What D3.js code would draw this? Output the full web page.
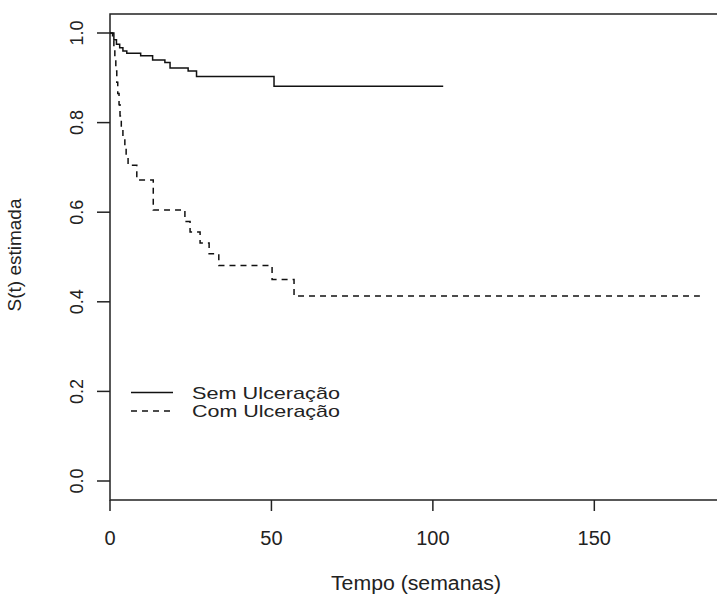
<!DOCTYPE html>
<html>
<head>
  <meta charset="UTF-8">
  <title>Kaplan-Meier</title>
  <script src="https://d3js.org/d3.v7.min.js"></script>
  <style>
    body { margin: 0; background: #fff; }
    text { font-family: "Liberation Sans", Arial, sans-serif; fill: #222; }
  </style>
</head>
<body>
  <svg id="chart" width="717" height="598"></svg>
  <script>
    // Sem Ulceração: step times (semanas) and estimated survival
    const semTempo = [0, 1.2, 2, 3, 4, 5.2, 9.5, 13.2, 17, 18.6, 24.2, 26.8, 50.8, 103.2];
    const semS     = [1, 0.985, 0.975, 0.967, 0.96, 0.955, 0.949, 0.94, 0.934, 0.922, 0.915, 0.903, 0.881, 0.881];

    // Com Ulceração
    const comTempo = [0, 0.8, 1.2, 1.5, 1.8, 2.1, 2.4, 2.8, 3.1, 3.5, 4.0, 4.6, 5.0, 5.6, 8.3, 13.4, 23.2, 24.8, 27.9, 30.7, 33.7, 50.2, 57.0, 182.7];
    const comS     = [1, 0.985, 0.96, 0.94, 0.915, 0.89, 0.865, 0.84, 0.815, 0.79, 0.765, 0.745, 0.725, 0.705, 0.672, 0.605, 0.579, 0.556, 0.531, 0.507, 0.481, 0.450, 0.413, 0.413];

    const xTicks = [0, 50, 100, 150];
    const yTicks = [0, 0.2, 0.4, 0.6, 0.8, 1.0];
    const legendLabels = ["Sem Ulceração", "Com Ulceração"];

    const svg = d3.select("#chart");
    const x = d3.scaleLinear().domain([0, 188]).range([110, 717]);
    const y = d3.scaleLinear().domain([0, 1]).range([481, 33]);

    // box: top, left, bottom (right side falls outside the window)
    svg.append("path")
       .attr("d", "M717,14 H110 V500 H717")
       .attr("fill", "none").attr("stroke", "#222").attr("stroke-width", 1.5);

    // x axis ticks
    svg.selectAll("line.xt").data(xTicks).join("line")
       .attr("x1", d => x(d)).attr("x2", d => x(d))
       .attr("y1", 500).attr("y2", 511)
       .attr("stroke", "#222").attr("stroke-width", 1.5);
    svg.selectAll("text.xt").data(xTicks).join("text")
       .attr("class", "xt")
       .attr("x", d => x(d)).attr("y", 545)
       .attr("text-anchor", "middle").attr("font-size", 20)
       .text(d => d);

    // y axis ticks
    svg.selectAll("line.yt").data(yTicks).join("line")
       .attr("x1", 97).attr("x2", 110)
       .attr("y1", d => y(d)).attr("y2", d => y(d))
       .attr("stroke", "#222").attr("stroke-width", 1.5);
    svg.selectAll("text.yt").data(yTicks).join("text")
       .attr("class", "yt")
       .attr("transform", d => `translate(83,${y(d)}) rotate(-90)`)
       .attr("text-anchor", "middle").attr("font-size", 18)
       .text(d => d.toFixed(1));

    // axis titles
    svg.append("text")
       .attr("x", 416).attr("y", 590)
       .attr("text-anchor", "middle").attr("font-size", 20)
       .attr("textLength", 170).attr("lengthAdjust", "spacingAndGlyphs")
       .text("Tempo (semanas)");
    svg.append("text")
       .attr("transform", "translate(21,255) rotate(-90)")
       .attr("text-anchor", "middle").attr("font-size", 19)
       .text("S(t) estimada");

    // step curves
    const stepLine = d3.line().x(d => x(d[0])).y(d => y(d[1])).curve(d3.curveStepAfter);
    const semData = d3.zip(semTempo, semS);
    const comData = d3.zip(comTempo, comS);

    svg.append("path").datum(semData)
       .attr("d", stepLine)
       .attr("fill", "none").attr("stroke", "#111").attr("stroke-width", 1.5);
    svg.append("path").datum(comData)
       .attr("d", stepLine)
       .attr("fill", "none").attr("stroke", "#111").attr("stroke-width", 1.5)
       .attr("stroke-dasharray", "6,5");

    // legend
    const legend = svg.append("g");
    legendLabels.forEach((lab, i) => {
      const ly = 392.5 + i * 18.5;
      legend.append("line")
            .attr("x1", 131).attr("x2", 173).attr("y1", ly).attr("y2", ly)
            .attr("stroke", "#111").attr("stroke-width", 1.5)
            .attr("stroke-dasharray", i === 1 ? "6,5" : null);
      legend.append("text")
            .attr("x", 192).attr("y", ly + 6)
            .attr("font-size", 17)
            .attr("textLength", 148).attr("lengthAdjust", "spacingAndGlyphs")
            .text(lab);
    });
  </script>
</body>
</html>
